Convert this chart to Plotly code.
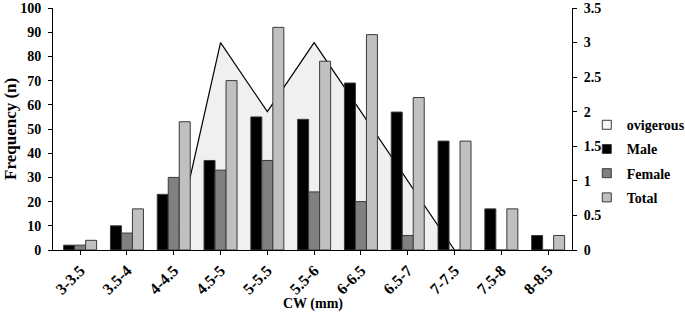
import plotly.graph_objects as go

categories = ["3-3.5", "3.5-4", "4-4.5", "4.5-5", "5-5.5", "5.5-6", "6-6.5", "6.5-7", "7-7.5", "7.5-8", "8-8.5"]
male = [2, 10, 23, 37, 55, 54, 69, 57, 45, 17, 6]
female = [2, 7, 30, 33, 37, 24, 20, 6, 0, 0, 0]
total = [4, 17, 53, 70, 92, 78, 89, 63, 45, 17, 6]
ovigerous = [None, None, 0, 3, 2, 3, 2, 1, 0, None, None]

FONT = "Liberation Serif, Times New Roman, serif"
EDGE = "#3a3a3a"
series = [("Male", male, "#000000"), ("Female", female, "#808080"), ("Total", total, "#c0c0c0")]

fig = go.Figure()

# ovigerous area on the right-hand axis (drawn underneath the bars)
fig.add_trace(go.Scatter(
    x=categories, y=ovigerous, mode="lines", fill="tozeroy",
    fillcolor="#f0f0f0", line=dict(color="black", width=1.2),
    yaxis="y", showlegend=False, hoverinfo="skip", connectgaps=False,
))

for name, vals, col in series:
    fig.add_trace(go.Bar(
        x=categories, y=vals, name=name, yaxis="y2",
        marker=dict(color=col, line=dict(color=EDGE, width=1)),
        showlegend=False,
    ))

# legend entries (square swatches)
legend_items = [("ovigerous", "#f7f7f7")] + [(n, c) for n, _, c in series]
for name, col in legend_items:
    fig.add_trace(go.Scatter(
        x=[None], y=[None], mode="markers", name=name, yaxis="y",
        marker=dict(symbol="square", size=9, color=col, line=dict(color=EDGE, width=1)),
        legendgroup=name,
    ))

fig.update_layout(
    width=685, height=315,
    margin=dict(l=53, r=113, t=8, b=65, autoexpand=False),
    paper_bgcolor="white", plot_bgcolor="white",
    font=dict(family=FONT, size=14, color="black", weight="bold"),
    barmode="group", bargap=0.295, bargroupgap=0,
    xaxis=dict(
        type="category", range=[-0.58, 10.51],
        showline=True, linecolor="black", linewidth=1,
        ticks="outside", ticklen=4, tickcolor="black",
        tickangle=-45, showgrid=False, zeroline=False,
        tickfont=dict(size=16),
    ),
    yaxis=dict(
        side="right", range=[0, 3.5], dtick=0.5,
        showline=True, linecolor="black", linewidth=1,
        ticks="outside", ticklen=4, tickcolor="black",
        showgrid=False, zeroline=False, tickfont=dict(size=14),
        ticklabelstandoff=4, ticklabeloverflow="allow",
    ),
    yaxis2=dict(
        side="left", overlaying="y", range=[0, 100], dtick=10,
        showline=True, linecolor="black", linewidth=1,
        ticks="outside", ticklen=4, tickcolor="black",
        showgrid=False, zeroline=False, tickfont=dict(size=14),
        ticklabelstandoff=4, ticklabeloverflow="allow",
    ),
    legend=dict(
        x=1.0285, xanchor="left", y=0.367, yanchor="middle",
        font=dict(size=14), bgcolor="rgba(0,0,0,0)",
        tracegroupgap=3, itemwidth=30,
    ),
    showlegend=True,
    annotations=[
        dict(text="CW (mm)", xref="paper", yref="paper", x=0.5, y=-0.2245,
             xanchor="center", yanchor="middle", showarrow=False, font=dict(size=14)),
        dict(text="Frequency (n)", xref="paper", yref="paper", x=-0.083, y=0.5,
             xanchor="center", yanchor="middle", textangle=-90, showarrow=False,
             font=dict(size=17)),
    ],
)

fig.write_html("out.html", config={"displayModeBar": False},
               post_script="document.body.style.margin='0';")
